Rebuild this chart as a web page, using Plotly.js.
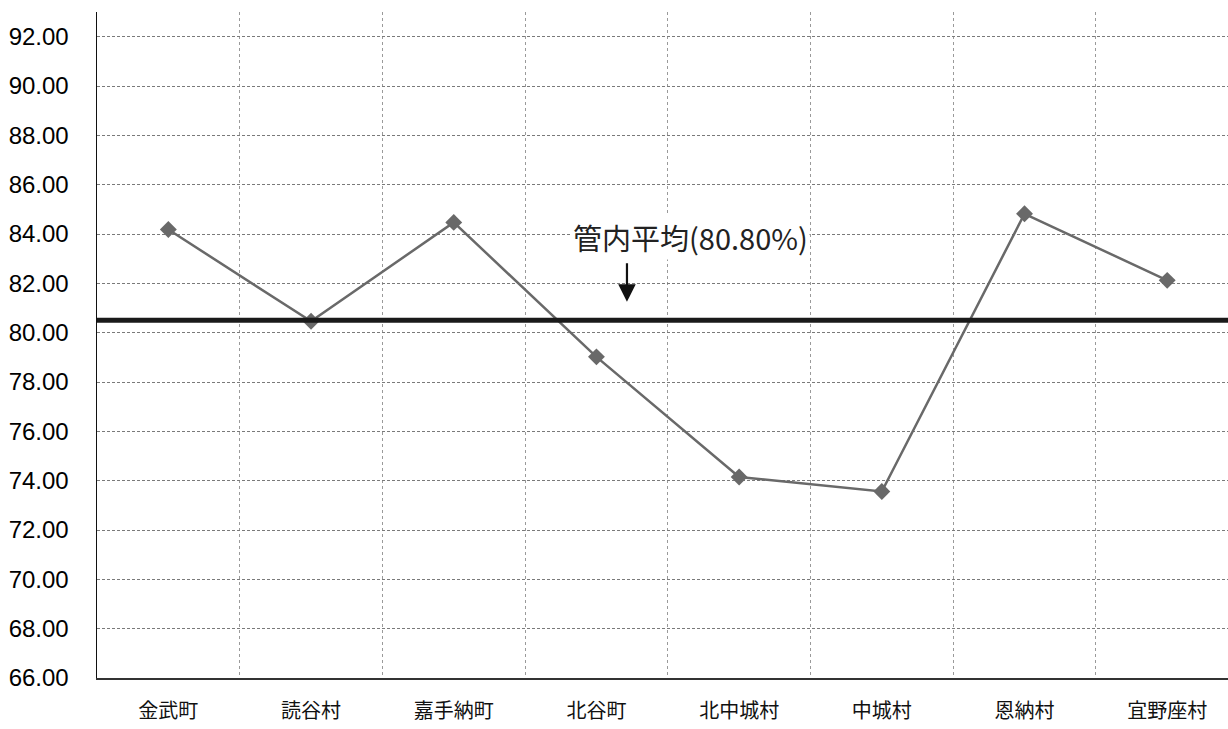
<!DOCTYPE html>
<html>
<head>
<meta charset="utf-8">
<script src="https://cdn.plot.ly/plotly-3.0.1.min.js"></script>
<style>html,body{margin:0;padding:0;background:#fff;}#chart{width:1228px;height:729px;}</style>
</head>
<body>
<div id="chart"></div>
<script>
const categories = ["金武町", "読谷村", "嘉手納町", "北谷町", "北中城村", "中城村", "恩納村", "宜野座村"];
const values = [84.18, 80.46, 84.47, 79.02, 74.15, 73.56, 84.82, 82.12];
const averageLine = 80.5;
const averageLabel = "管内平均(80.80%)";
const yTickVals = [66, 68, 70, 72, 74, 76, 78, 80, 82, 84, 86, 88, 90, 92];

const trace = {
  x: categories,
  y: values,
  type: "scatter",
  mode: "lines+markers",
  line: {color: "#696969", width: 2.5},
  marker: {symbol: "diamond", size: 13, color: "#696969"},
  hoverinfo: "x+y",
  showlegend: false
};

const layout = {
  width: 1228,
  height: 729,
  margin: {l: 97, r: 0, t: 12, b: 51},
  paper_bgcolor: "#ffffff",
  plot_bgcolor: "#ffffff",
  showlegend: false,
  xaxis: {
    type: "category",
    range: [-0.5, 7.426],
    tickson: "boundaries",
    ticks: "",
    showgrid: true,
    gridcolor: "#9a9a9a",
    griddash: "dot",
    gridwidth: 1,
    showline: true,
    linecolor: "#333333",
    linewidth: 1.5,
    tickfont: {family: "Noto Sans CJK JP", size: 20, color: "#111111"},
    ticklabelstandoff: 14,
    fixedrange: true
  },
  yaxis: {
    range: [66, 93],
    tickvals: yTickVals,
    tickformat: ".2f",
    ticks: "",
    showgrid: true,
    gridcolor: "#7a7a7a",
    griddash: "3px,2px",
    gridwidth: 1,
    showline: true,
    linecolor: "#111111",
    linewidth: 1.5,
    zeroline: false,
    tickfont: {family: "Liberation Sans, Arial, sans-serif", size: 24, color: "#000000"},
    ticklabelstandoff: 22,
    fixedrange: true
  },
  shapes: [{
    type: "line",
    xref: "paper", x0: 0, x1: 1,
    yref: "y", y0: averageLine, y1: averageLine,
    line: {color: "#1a1a1a", width: 5}
  }],
  annotations: [
    {
      x: 3.66, y: 83.86, xref: "x", yref: "y",
      text: averageLabel, showarrow: false,
      font: {family: "Noto Sans CJK JP", size: 29, color: "#222222"},
      bgcolor: "#ffffff"
    },
    {
      x: 3.214, y: 81.25, xref: "x", yref: "y",
      text: "", showarrow: true,
      ax: 0, ay: -40,
      arrowhead: 2, arrowsize: 1.6, arrowwidth: 2.2, arrowcolor: "#111111"
    }
  ]
};

Plotly.newPlot("chart", [trace], layout, {displayModeBar: false, staticPlot: true});
</script>
</body>
</html>
